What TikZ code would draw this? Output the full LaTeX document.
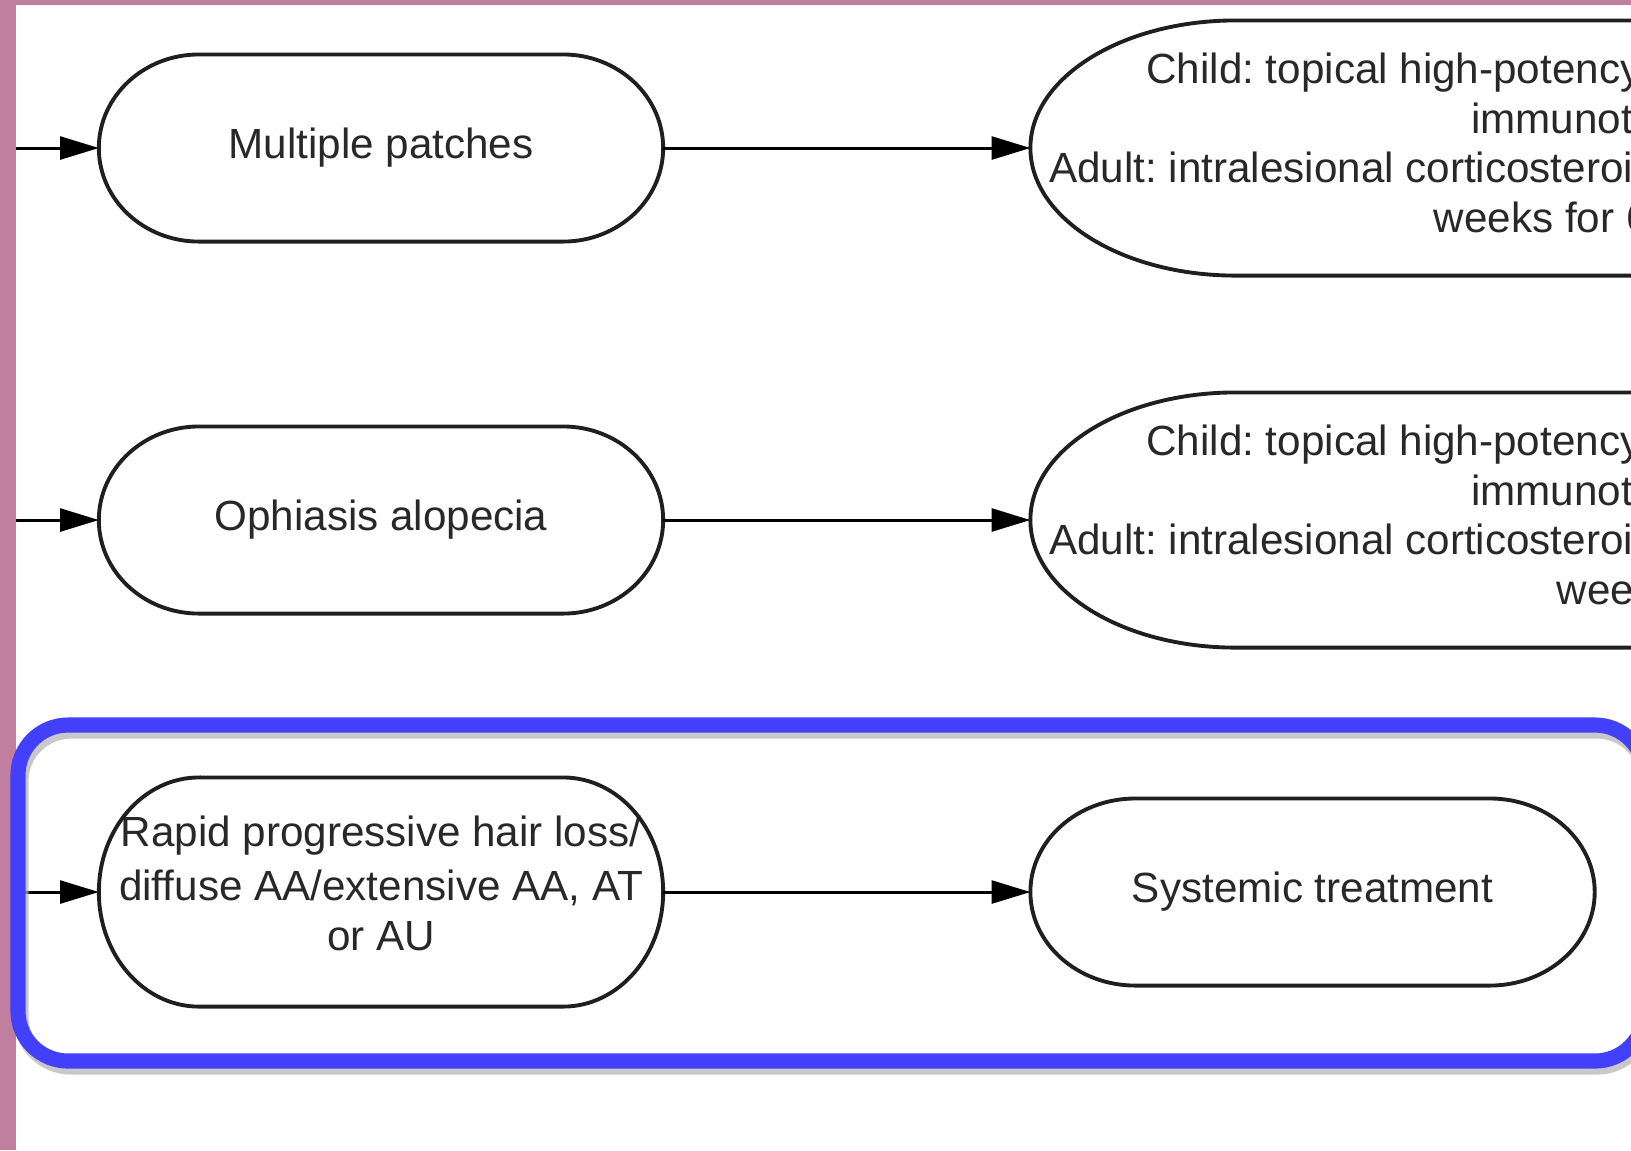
\documentclass[tikz,border=0pt]{standalone}
\usepackage{fontspec}
\setmainfont{Liberation Sans}
\usetikzlibrary{positioning}
\usetikzlibrary{arrows.meta}
\definecolor{sidebar}{RGB}{193,127,160}
\definecolor{framebl}{RGB}{66,64,250}
\definecolor{ink}{RGB}{40,40,40}
\tikzset{pillline/.style={draw=black!88, line width=1.1pt}}
% outline with elliptic ends round a node: node, x radius, y radius
\newcommand{\pillaround}[3]{%
  \draw[pillline] ([xshift=#2]#1.north west) -- ([xshift=-#2]#1.north east)
    arc[start angle=90, end angle=-90, x radius=#2, y radius=#3]
    -- ([xshift=#2]#1.south west)
    arc[start angle=270, end angle=90, x radius=#2, y radius=#3] -- cycle;}
\frenchspacing

\begin{document}
\begin{tikzpicture}[
    x=0.01cm, y=-0.01cm,
    every node/.style={font=\fontsize{12}{14.1}\selectfont, text=ink,
                       align=center, inner sep=2pt, outer sep=0pt},
    sign/.style={minimum width=5.64cm, minimum height=1.87cm},
    tall/.style={minimum width=5.64cm, minimum height=2.29cm},
    advice/.style={minimum width=11.72cm, minimum height=2.55cm,
                   text depth=3pt},
    link/.style={-{Triangle[length=11pt, width=6.5pt]}, line width=0.85pt,
                 draw=black},
    frame/.style={draw=framebl, line width=4.3pt, rounded corners=0.5cm},
  ]
  \useasboundingbox (0,0) rectangle (1631,1150);
  \clip (0,0) rectangle (1631,1150);
  \fill[white] (0,0) rectangle (1631,1150);
  \fill[sidebar] (0,0) rectangle (1631,5);
  \fill[sidebar] (0,0) rectangle (16,1150);

  %% --- Presentations ---
  \node[sign] (mp) at (381,148) {Multiple patches};
  \node[sign] (oa) at (381,520) {Ophiasis alopecia};
  \node[tall] (rp) at (381,892) {\raisebox{5pt}{\shortstack{Rapid progressive hair loss/\\[1.2pt]
    diffuse AA/extensive AA, AT\\[1.2pt]or AU}}};

  %% --- Treatments ---
  \node[advice, right=3.67cm of mp] (tx1) {
    Child: topical high-potency corticosteroid or topical\\
    immunotherapy\\
    Adult: intralesional corticosteroids (2.5–10 mg/mL) every 4–6\\
    weeks for 6 months};
  \node[advice, right=3.67cm of oa] (tx2) {
    Child: topical high-potency corticosteroid or topical\\
    immunotherapy\\
    Adult: intralesional corticosteroids (2.5–10 mg/mL) every 4–6\\
    weeks};
  \node[sign, right=3.67cm of rp] (st) {Systemic treatment};

  \pillaround{mp}{1cm}{0.935cm}
  \pillaround{oa}{1cm}{0.935cm}
  \pillaround{rp}{1cm}{1.145cm}
  \pillaround{tx1}{2.05cm}{1.275cm}
  \pillaround{tx2}{2.05cm}{1.275cm}
  \pillaround{st}{1.05cm}{0.935cm}

  %% --- Connectors ---
  \coordinate (in1) at (16,148);
  \coordinate (in2) at (16,520);
  \coordinate (in3) at (16,892);
  \draw[link] (in1) -- (mp);
  \draw[link] (in2) -- (oa);
  \draw[link] (in3) -- (rp);
  \draw[link] (mp) -- (tx1);
  \draw[link] (oa) -- (tx2);
  \draw[link] (rp) -- (st);

  %% --- Highlight ---
  \draw[black!30, line width=4.3pt, rounded corners=0.5cm, opacity=0.7]
    (21,731) rectangle (1647,1067);
  \draw[frame] (18,725) rectangle (1645,1061);
\end{tikzpicture}
\end{document}
